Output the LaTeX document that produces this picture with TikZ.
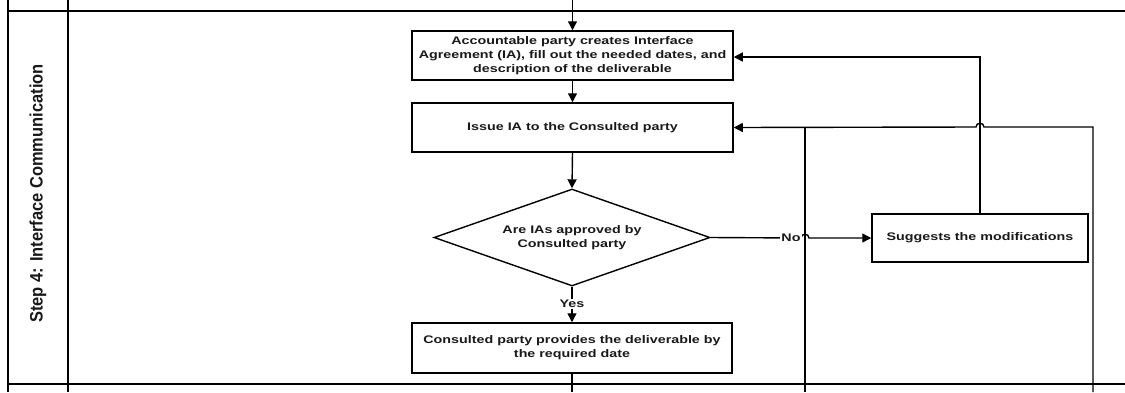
\documentclass[tikz,border=0pt]{standalone}
\usepackage{fontspec}
\setmainfont{Liberation Sans}
\newfontfamily\boxfont{Liberation Sans}[FakeStretch=1.3]
\newfontfamily\lanefont{Liberation Sans}[FakeStretch=0.915]
\usetikzlibrary{shapes.geometric,arrows.meta}
\begin{document}
\begin{tikzpicture}[x=1pt,y=-1pt,
  every node/.style={font=\boxfont\fontsize{11}{14}\selectfont\bfseries, text=black!90},
  procbox/.style={draw, line width=1.5pt, inner sep=0pt, align=center},
  decision/.style={draw, diamond, aspect=2.85, line width=1.4pt, inner sep=0pt, align=center},
  flow/.style={line width=1.4pt, -{Triangle[length=9pt,width=9pt]}},
  plain/.style={line width=1.4pt},
  lane/.style={line width=2pt},
  lbl/.style={inner sep=1pt, fill=white}]
\useasboundingbox (0,0) rectangle (1125,392);

% swimlane frame
\draw[lane] (8,0) -- (8,392);
\draw[lane] (68,0) -- (68,392);
\draw[lane] (8,11) -- (1125,11);
\draw[lane] (8,384) -- (1125,384);
\node[rotate=90, font=\lanefont\fontsize{18}{20}\selectfont\bfseries] (title) at (38,193.5) {Step 4: Interface Communication};

% process steps
\node[procbox, minimum width=321, minimum height=49] (create) at (572.5,55.5)
  {Accountable party creates Interface\\Agreement (IA), fill out the needed dates, and\\description of the deliverable};
\node[procbox, minimum width=321, minimum height=49] (issue) at (572.5,127.5)
  {Issue IA to the Consulted party};
\node[decision, minimum width=276, minimum height=97] (approved) at (572,237.5)
  {Are IAs approved by\\Consulted party};
\node[procbox, minimum width=320, minimum height=50] (provide) at (572,348)
  {Consulted party provides the deliverable by\\the required date};
\node[procbox, minimum width=216, minimum height=48] (suggest) at (980,238)
  {Suggests the modifications};

% free ends of the connectors
\coordinate (intop) at (572.5,0);
\coordinate (outbot) at (572,392);
\coordinate (retA) at (805,392);
\coordinate (retB) at (1093,392);

% main flow
\draw[flow] (intop) -- (create.north);
\draw[flow] (create.south) -- (issue.north);
\draw[flow] (issue.south) -- (approved.north);
\draw[flow] (approved.south) -- (provide.north);
\node[lbl] (yes) at (572,304) {Yes};
\draw[plain] (provide.south) -- (outbot);

% rejection branch, hopping over the return line at x=805
\draw[flow] (approved.east) -- (801,238)
  .. controls (801,233) and (809,233) .. (809,238) -- (suggest.west);
\node[lbl] (no) at (791,238) {No};

% modifications back to the creation step
\draw[flow] (suggest.north) -- (980,57) -- (create.east |- 0,57);

% return lines into the issue step, hopping over the line at x=980
\draw[plain] (retA) -- (805,127);
\draw[flow] (retB) -- (1093,127) -- (984,127)
  .. controls (984,122) and (976,122) .. (976,127) -- (issue.east);
\end{tikzpicture}
\end{document}
